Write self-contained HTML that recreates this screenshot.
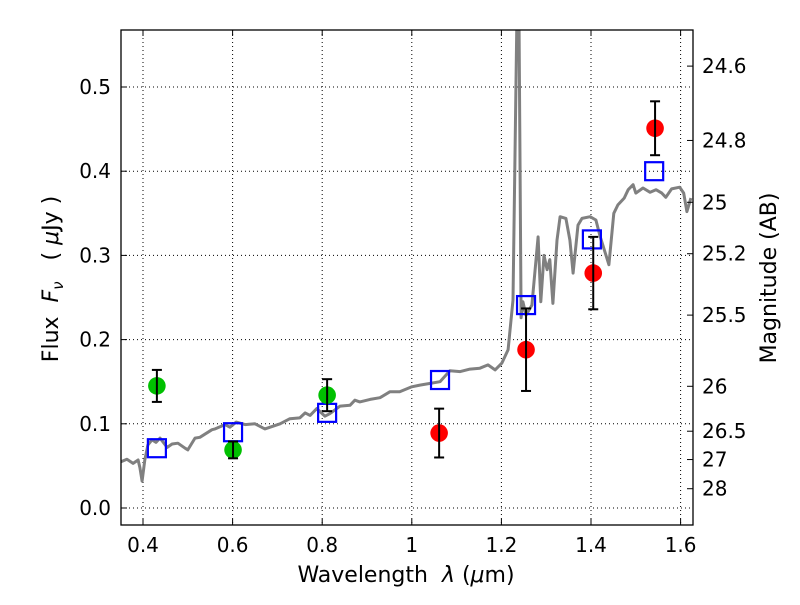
<!DOCTYPE html>
<html><head><meta charset="utf-8"><style>
body{margin:0;background:#fff}
svg text{font-family:"DejaVu Sans","Liberation Sans",sans-serif;font-size:20px;fill:#000}
svg text.title{font-size:22px}
</style></head><body>
<svg id="chart" width="800" height="600">
<rect width="800" height="600" fill="#fff"/>
<g id="grid"></g>
<g id="spec"></g>
<g id="marks"></g>
<rect x="121" y="30" width="572" height="495" fill="none" stroke="#000" stroke-width="1.3"/>
<g id="axes"></g>
<text class="title" x="406" y="582" text-anchor="middle" xml:space="preserve">Wavelength  <tspan font-style="italic">λ</tspan> (<tspan font-style="italic">μ</tspan>m)</text>
<text class="title" transform="translate(58,279) rotate(-90)" text-anchor="middle" xml:space="preserve">Flux  <tspan font-style="italic">F</tspan><tspan font-style="italic" font-size="15" dy="5">ν</tspan><tspan dy="-5">   ( </tspan><tspan font-style="italic">μ</tspan>Jy )</text>
<text class="title" transform="translate(776,278) rotate(-90)" text-anchor="middle">Magnitude (AB)</text>
</svg>
<script>
const specLam=[0.351,0.364,0.378,0.389,0.393,0.398,0.404,0.411,0.420,0.429,0.438,0.454,0.465,0.478,0.494,0.500,0.516,0.527,0.554,0.561,0.583,0.594,0.608,0.628,0.650,0.672,0.706,0.728,0.750,0.762,0.773,0.788,0.806,0.817,0.840,0.862,0.873,0.884,0.907,0.929,0.951,0.973,1.000,1.018,1.041,1.063,1.085,1.108,1.130,1.152,1.170,1.186,1.201,1.215,1.226,1.235,1.239,1.244,1.248,1.255,1.268,1.282,1.288,1.295,1.302,1.308,1.315,1.324,1.331,1.344,1.353,1.360,1.371,1.380,1.398,1.411,1.420,1.440,1.451,1.460,1.474,1.483,1.494,1.500,1.516,1.532,1.545,1.558,1.567,1.580,1.598,1.607,1.614,1.623];
const specFlux=[0.055,0.058,0.053,0.057,0.048,0.032,0.057,0.075,0.081,0.078,0.083,0.072,0.076,0.077,0.071,0.069,0.083,0.084,0.093,0.094,0.099,0.096,0.102,0.099,0.100,0.094,0.100,0.106,0.107,0.113,0.110,0.118,0.109,0.112,0.121,0.122,0.128,0.126,0.129,0.131,0.138,0.138,0.144,0.146,0.148,0.150,0.163,0.162,0.165,0.166,0.170,0.164,0.172,0.188,0.247,0.60,0.60,0.226,0.245,0.229,0.241,0.322,0.245,0.300,0.283,0.295,0.243,0.318,0.346,0.344,0.318,0.279,0.336,0.344,0.346,0.342,0.323,0.289,0.350,0.360,0.368,0.378,0.384,0.374,0.380,0.375,0.378,0.374,0.369,0.379,0.381,0.374,0.352,0.368];
const greenLam=[0.431,0.601,0.811];
const greenFlux=[0.145,0.069,0.134];
const greenErr=[0.019,0.010,0.019];
const redLam=[1.061,1.255,1.405,1.543];
const redFlux=[0.089,0.188,0.279,0.451];
const redErr=[0.029,0.049,0.043,0.032];
const modelLam=[0.431,0.601,0.811,1.063,1.255,1.402,1.541];
const modelFlux=[0.071,0.090,0.113,0.152,0.241,0.319,0.400];
const xTicks=[0.4,0.6,0.8,1.0,1.2,1.4,1.6];
const xTickLabels=["0.4","0.6","0.8","1","1.2","1.4","1.6"];
const yTicks=[0.0,0.1,0.2,0.3,0.4,0.5];
const yTickLabels=["0.0","0.1","0.2","0.3","0.4","0.5"];
const magTicks=[24.6,24.8,25,25.2,25.5,26,26.5,27,28];
const magTickLabels=["24.6","24.8","25","25.2","25.5","26","26.5","27","28"];

const L=121,R=693,T=30,B=525;
const X=v=>143+(v-0.4)*448;
const Y=v=>508-v*842;
const NS="http://www.w3.org/2000/svg";
function mk(tag,attrs,parent){const e=document.createElementNS(NS,tag);for(const k in attrs)e.setAttribute(k,attrs[k]);parent.appendChild(e);return e;}
const grid=document.getElementById('grid'),axes=document.getElementById('axes'),spec=document.getElementById('spec'),marks=document.getElementById('marks');

xTicks.forEach((t,i)=>{
  const x=X(t);
  const g=mk('line',{x1:x,x2:x,y1:T,y2:B,stroke:'#000','stroke-dasharray':'1,3','stroke-width':1},grid);
  
  
  mk('line',{x1:x,x2:x,y1:B,y2:B-6,stroke:'#000'},axes);
  mk('line',{x1:x,x2:x,y1:T,y2:T+6,stroke:'#000'},axes);
  const tx=mk('text',{x:x,y:B+27,'text-anchor':'middle'},axes);
  tx.textContent=xTickLabels[i];
  
  
});
yTicks.forEach((t,i)=>{
  const y=Y(t);
  const g=mk('line',{x1:L,x2:R,y1:y,y2:y,stroke:'#000','stroke-dasharray':'1,3','stroke-width':1},grid);
  
  
  mk('line',{x1:L,x2:L+6,y1:y,y2:y,stroke:'#000'},axes);
  const tx=mk('text',{x:L-10,y:y+7,'text-anchor':'end'},axes);
  tx.textContent=yTickLabels[i];
  
  
});
magTicks.forEach((m,i)=>{
  const y=Y(Math.pow(10,(23.9-m)/2.5));
  mk('line',{x1:R,x2:R-6,y1:y,y2:y,stroke:'#000'},axes);
  const tx=mk('text',{x:R+9,y:y+7,'text-anchor':'start'},axes);
  tx.textContent=magTickLabels[i];
  
  
});

mk('clipPath',{id:'clip'},spec);
mk('rect',{x:L,y:T,width:R-L,height:B-T},document.getElementById('clip'));
const pts=specLam.map((l,i)=>X(l).toFixed(1)+','+Y(specFlux[i]).toFixed(1)).join(' ');
const pl=mk('polyline',{points:pts,fill:'none',stroke:'#808080','stroke-width':3,'clip-path':'url(#clip)','stroke-linejoin':'round'},spec);



function errbar(l,f,e){
  const x=X(l);
  mk('line',{x1:x,x2:x,y1:Y(f+e),y2:Y(f-e),stroke:'#000','stroke-width':2},marks);
  mk('line',{x1:x-5,x2:x+5,y1:Y(f+e),y2:Y(f+e),stroke:'#000','stroke-width':2},marks);
  mk('line',{x1:x-5,x2:x+5,y1:Y(f-e),y2:Y(f-e),stroke:'#000','stroke-width':2},marks);
}
modelLam.forEach((l,i)=>{
  const s=mk('rect',{x:X(l)-9,y:Y(modelFlux[i])-9,width:18,height:18,fill:'none',stroke:'#0000ff','stroke-width':2.2},marks);
  
  
});
greenLam.forEach((l,i)=>{
  const c=mk('circle',{cx:X(l),cy:Y(greenFlux[i]),r:8.8,fill:'#00c000'},marks);
  
  
  errbar(l,greenFlux[i],greenErr[i]);
});
redLam.forEach((l,i)=>{
  const c=mk('circle',{cx:X(l),cy:Y(redFlux[i]),r:8.8,fill:'#ff0000'},marks);
  
  
  errbar(l,redFlux[i],redErr[i]);
});
</script>
</body></html>
